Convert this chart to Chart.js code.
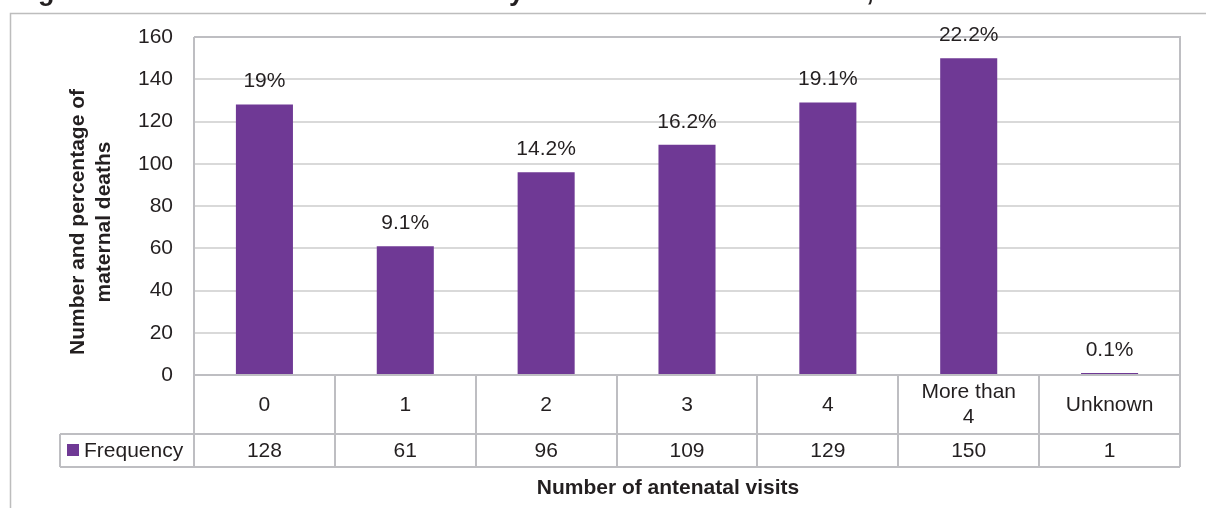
<!DOCTYPE html>
<html>
<head>
<meta charset="utf-8">
<script src="https://cdn.jsdelivr.net/npm/chart.js@4/dist/chart.umd.min.js"></script>
<style>
  html, body { margin: 0; padding: 0; background: #ffffff; }
  #wrap { width: 1206px; height: 508px; position: relative; }
</style>
</head>
<body>
<div id="wrap"><canvas id="c" width="1206" height="508"></canvas></div>
<script>
// Maternal deaths by number of antenatal visits
const categories = ['0', '1', '2', '3', '4', ['More than', '4'], 'Unknown'];
const frequency = [128, 61, 96, 109, 129, 150, 1];
const shares = ['19%', '9.1%', '14.2%', '16.2%', '19.1%', '22.2%', '0.1%'];
const seriesName = 'Frequency';
const yMin = 0;
const yMax = 160;
const yStep = 20;
const figureTitle = 'Figure 5: Number of maternal deaths by number of antenatal visits, 2015–2017';
const yTitle = ['Number and percentage of', 'maternal deaths'];
const xTitle = 'Number of antenatal visits';

const FONT = '"Liberation Sans", Arial, Helvetica, sans-serif';
const TEXT = '#231f20';
const BAR = '#6f3995';
const GRID = '#d9d9d9';
const RULE = '#bebec2';
const SIZE = 21;

// Table rows, axis titles, frame and value labels
const decorations = {
  id: 'decorations',
  afterDatasetsDraw(chart) {
    const ctx = chart.ctx;
    const area = chart.chartArea;
    const x = chart.scales.x;
    const meta = chart.getDatasetMeta(0);
    const rowTop = area.bottom;
    const rowMid = 434;
    const rowBot = 467;
    const legendLeft = 60;

    ctx.save();

    // plot box
    ctx.strokeStyle = RULE;
    ctx.lineWidth = 2;
    ctx.beginPath();
    ctx.moveTo(area.left, area.top);
    ctx.lineTo(area.right, area.top);
    ctx.lineTo(area.right, rowBot);
    ctx.moveTo(area.left, area.top);
    ctx.lineTo(area.left, rowBot);
    ctx.moveTo(area.left, rowTop);
    ctx.lineTo(area.right, rowTop);
    // table rules
    ctx.moveTo(legendLeft, rowMid);
    ctx.lineTo(area.right, rowMid);
    ctx.moveTo(legendLeft, rowBot);
    ctx.lineTo(area.right, rowBot);
    ctx.moveTo(legendLeft, rowMid);
    ctx.lineTo(legendLeft, rowBot);
    for (let i = 1; i < categories.length; i++) {
      const bx = Math.round((x.getPixelForValue(i - 1) + x.getPixelForValue(i)) / 2);
      ctx.moveTo(bx, rowTop);
      ctx.lineTo(bx, rowBot);
    }
    ctx.stroke();

    // outer frame
    ctx.strokeStyle = '#bdbdbd';
    ctx.lineWidth = 1.5;
    ctx.beginPath();
    ctx.moveTo(10.5, 508);
    ctx.lineTo(10.5, 13.5);
    ctx.lineTo(1206, 13.5);
    ctx.stroke();

    ctx.fillStyle = TEXT;
    ctx.textAlign = 'center';
    ctx.textBaseline = 'middle';
    ctx.font = SIZE + 'px ' + FONT;

    // category labels and frequency values
    categories.forEach((c, i) => {
      const cx = x.getPixelForValue(i);
      if (Array.isArray(c)) {
        ctx.fillText(c[0], cx, 392);
        ctx.fillText(c[1], cx, 417);
      } else {
        ctx.fillText(c, cx, 405);
      }
      ctx.fillText(String(frequency[i]), cx, 451);
    });

    // value labels above bars
    meta.data.forEach((bar, i) => {
      ctx.fillText(shares[i], bar.x, bar.y - 23);
    });

    // legend key
    ctx.fillStyle = BAR;
    ctx.fillRect(67, 444, 12, 12);
    ctx.fillStyle = TEXT;
    ctx.textAlign = 'left';
    ctx.fillText(seriesName, 84, 451);

    // axis titles
    ctx.font = 'bold 21px ' + FONT;
    ctx.textAlign = 'center';
    ctx.fillText(xTitle, 668, 488);
    yTitle.forEach((line, k) => {
      ctx.save();
      ctx.translate(78 + k * 26, 222);
      ctx.rotate(-Math.PI / 2);
      ctx.fillText(line, 0, 0);
      ctx.restore();
    });

    // figure caption, running off the top edge
    ctx.font = 'bold 27px ' + FONT;
    ctx.textAlign = 'left';
    ctx.textBaseline = 'alphabetic';
    ctx.fillText(figureTitle, 14, 0);

    ctx.restore();
  }
};

new Chart(document.getElementById('c'), {
  type: 'bar',
  data: {
    labels: categories,
    datasets: [{
      label: seriesName,
      data: frequency,
      backgroundColor: BAR,
      borderWidth: 0,
      barPercentage: 0.405,
      categoryPercentage: 1
    }]
  },
  options: {
    responsive: false,
    animation: false,
    devicePixelRatio: 1,
    layout: { padding: { top: 37, right: 26, bottom: 0, left: 0 } },
    plugins: {
      legend: { display: false },
      tooltip: { enabled: false },
      title: { display: false }
    },
    scales: {
      x: {
        offset: true,
        grid: { display: false },
        border: { display: false },
        ticks: { display: false },
        afterFit(scale) { scale.height = 133; }
      },
      y: {
        min: yMin,
        max: yMax,
        border: { display: false },
        grid: { color: GRID, lineWidth: 2, drawTicks: false },
        ticks: {
          stepSize: yStep,
          padding: 21,
          color: TEXT,
          font: { family: FONT, size: SIZE }
        },
        afterFit(scale) { scale.width = 194; }
      }
    }
  },
  plugins: [decorations]
});
</script>
</body>
</html>
